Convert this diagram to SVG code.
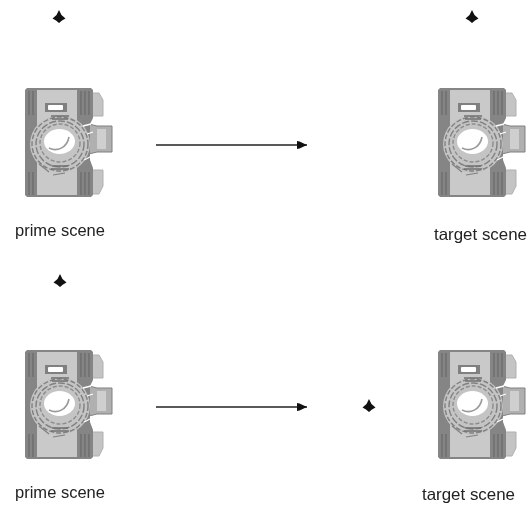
<svg xmlns="http://www.w3.org/2000/svg" width="531" height="506" viewBox="0 0 531 506">
<style>
text{font-family:"Liberation Sans",Arial,sans-serif;font-size:16.5px;fill:#222;filter:url(#textsoft)}
.conn{stroke:#222;stroke-width:1.3;fill:none;marker-end:url(#arrow)}
</style>
<defs>
<marker id="arrow" markerUnits="userSpaceOnUse" markerWidth="11" markerHeight="10" refX="10" refY="4.5" orient="auto"><path d="M0,0.5 L2.5,1 L10,4.5 L2.5,8 L0,8.5 Z" fill="#111"/></marker>
<filter id="soft" x="-5%" y="-5%" width="110%" height="110%"><feGaussianBlur stdDeviation="0.55"/></filter>
<filter id="textsoft" x="-5%" y="-20%" width="110%" height="140%"><feGaussianBlur stdDeviation="0.35"/></filter>
<path id="star" d="M0,-7 L2.5,-2 L6.5,1.5 L3,3.5 L0,6 L-3,3.5 L-6.5,1.5 L-2.5,-2 Z" fill="#111"/>
<g id="camera" filter="url(#soft)">
<path d="M65,5 H74 L78,12 V28 H65 Z" fill="#c4c4c4" stroke="#b0b0b0"/>
<path d="M65,82 H78 V98 L74,106 H65 Z" fill="#c4c4c4" stroke="#b0b0b0"/>
<path d="M64,36 L72,38 H87 V64 H72 L64,66 Z" fill="#b0b0b0" stroke="#808080"/>
<rect x="72" y="41" width="9" height="20" fill="#cfcfcf"/>
<path d="M2,0 H66 L68,2 V30 L65,36 V72 L68,80 V107 L66,109 H2 L0,107 V2 Z" fill="#858585"/>
<rect x="12" y="2" width="40" height="105" fill="#c9c9c9"/>
<path d="M4,3 V27 M8,3 V27 M4,84 V107 M8,84 V107 M56,3 V27 M60,3 V27 M64,3 V27 M56,84 V107 M60,84 V107 M64,84 V107" stroke="#666" stroke-width="1.1"/>
<rect x="20" y="15" width="22" height="9" fill="#808080"/>
<rect x="23" y="17" width="15" height="5" rx="1" fill="#fff"/>
<ellipse cx="35" cy="56" rx="30" ry="29" fill="#c4c4c4"/>
<ellipse cx="35" cy="56" rx="28" ry="27" fill="none" stroke="#808080" stroke-width="1.4" stroke-dasharray="5 2"/>
<ellipse cx="35" cy="56" rx="24" ry="23" fill="none" stroke="#808080" stroke-width="1.4" stroke-dasharray="7 2"/>
<ellipse cx="35" cy="55" rx="20" ry="19" fill="none" stroke="#8c8c8c" stroke-width="1.4" stroke-dasharray="4 2"/>
<ellipse cx="34.5" cy="53.5" rx="15.5" ry="12.5" fill="#fff"/>
<path d="M24,60 C32,64 42,60 44,49" fill="none" stroke="#9a9a9a" stroke-width="1.6"/>
<path d="M26,28 H44 M27,31 H43 M26,81 H44 M27,78 H43" stroke="#707070" stroke-width="1.4"/>
<path d="M58,38 L66,36 M59,72 L67,68 M62,46 L68,44" stroke="#fff" stroke-width="1.3"/>
<path d="M14,76 L24,84 M28,87 L40,85" stroke="#808080" stroke-width="1.2"/>
</g>
</defs>
<g id="connectors">
<line class="conn" x1="156" y1="145" x2="307" y2="145"/>
<line class="conn" x1="156" y1="407" x2="307" y2="407"/>
</g>
<g id="prime-top"><use href="#camera" x="25" y="88"/><text x="15" y="236" textLength="90" lengthAdjust="spacingAndGlyphs">prime scene</text></g>
<g id="target-top"><use href="#camera" x="438" y="88"/><text x="434" y="240" textLength="93" lengthAdjust="spacingAndGlyphs">target scene</text></g>
<g id="prime-bottom"><use href="#camera" x="25" y="350"/><text x="15" y="498" textLength="90" lengthAdjust="spacingAndGlyphs">prime scene</text></g>
<g id="target-bottom"><use href="#camera" x="438" y="350"/><text x="422" y="500" textLength="93" lengthAdjust="spacingAndGlyphs">target scene</text></g>
<g id="star-1"><use href="#star" x="59" y="17"/></g>
<g id="star-2"><use href="#star" x="472" y="17"/></g>
<g id="star-3"><use href="#star" x="60" y="281"/></g>
<g id="star-4"><use href="#star" x="369" y="406"/></g>
</svg>
